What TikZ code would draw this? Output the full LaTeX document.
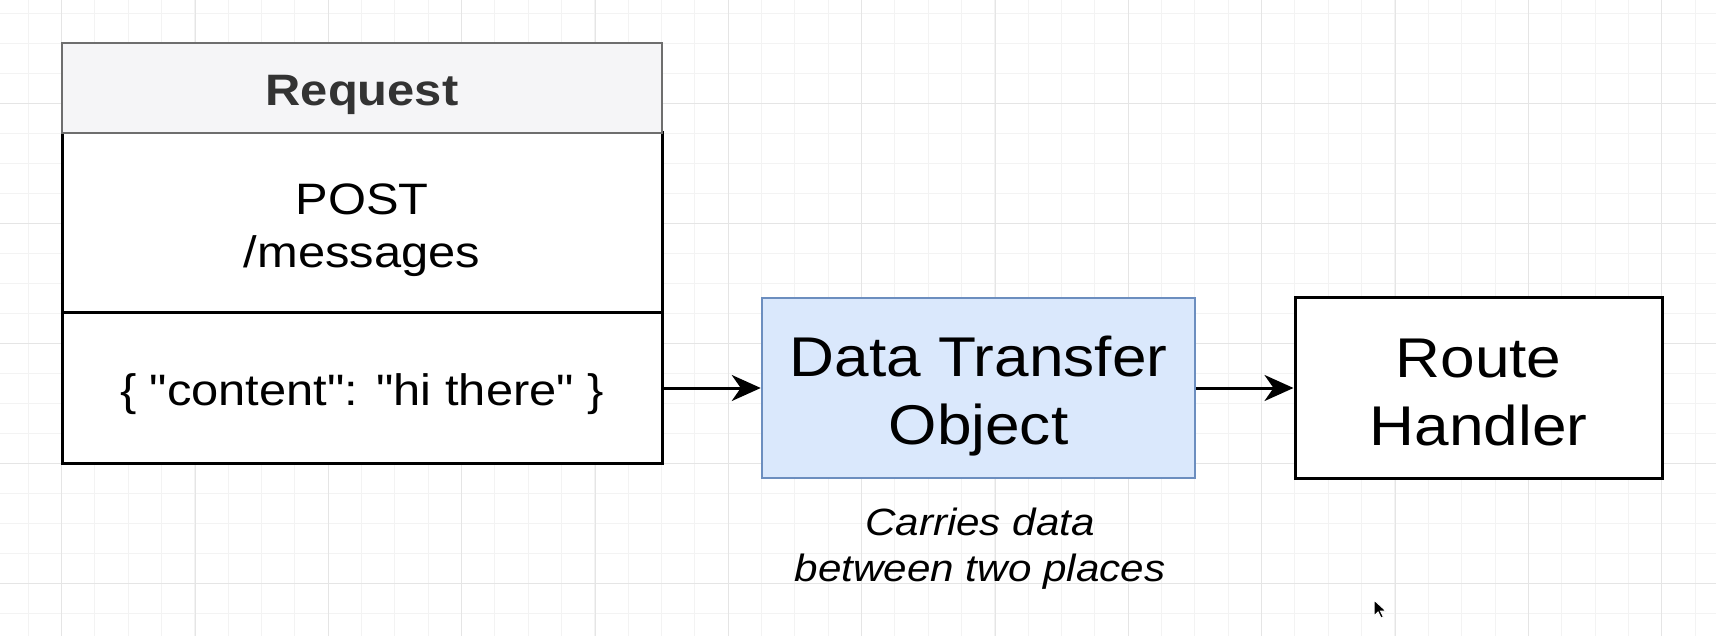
\documentclass[tikz,border=0pt]{standalone}
\usepackage{fontspec}
\setmainfont{Liberation Sans}[FakeStretch=1.11]
\newfontfamily\plainsans{Liberation Sans}[FakeStretch=1.11]
\usetikzlibrary{arrows.meta}
\definecolor{gridminor}{HTML}{F3F3F3}
\definecolor{gridmajor}{HTML}{E5E5E5}
\definecolor{hdrfill}{HTML}{F5F5F7}
\definecolor{hdrdraw}{HTML}{6E6E6E}
\definecolor{hdrtext}{HTML}{333333}
\definecolor{dtofill}{HTML}{DAE8FC}
\definecolor{dtodraw}{HTML}{6C8EBF}
\newcommand\mystrut{\rule[-0.18em]{0pt}{1.2em}}
\begin{document}
\begin{tikzpicture}[x=1pt,y=-1pt,
  box/.style={draw=black,line width=3pt,fill=white,inner sep=0pt,align=center,font=\fontsize{44}{52.8}\selectfont},
  big/.style={font=\fontsize{56}{67}\selectfont},
  hdr/.style={draw=hdrdraw,fill=hdrfill,line width=2.5pt,inner sep=0pt,text=hdrtext,font=\bfseries\fontsize{44}{52.8}\selectfont},
  dtobox/.style={box,big,draw=dtodraw,fill=dtofill,line width=2.5pt},
  conn/.style={line width=3pt,-{Stealth[length=29pt,width=26pt,inset=9pt]}},
  note/.style={align=center,inner sep=0pt,font=\itshape\fontsize{38}{45}\selectfont},
  gmin/.style={draw=gridminor,line width=1pt},
  gmaj/.style={draw=gridmajor,line width=1pt}
]
\useasboundingbox (0,0) rectangle (1716,636);
\fill[white] (0,0) rectangle (1716,636);
% grid
\foreach \k in {0,...,50} {\draw[gmin] ({28.33+33.333*\k},0) -- ({28.33+33.333*\k},636);}
\foreach \k in {0,...,20} {\draw[gmin] (0,{13.33+30*\k}) -- (1716,{13.33+30*\k});}
\foreach \k in {0,...,12} {\draw[gmaj] ({61.67+133.333*\k},0) -- ({61.67+133.333*\k},636);}
\foreach \k in {0,...,4} {\draw[gmaj] (0,{103.33+120*\k}) -- (1716,{103.33+120*\k});}
% request
\node[box,minimum width=600pt,minimum height=180pt] (reqm) at (362,223) {\mystrut POST\\\mystrut /messages};
\node[box,minimum width=600pt,minimum height=150pt] (reqb) at (362,388) {\plainsans\mystrut\{ "content": "hi there" \}};
\node[hdr,minimum width=600pt,minimum height=90pt] (reqh) at (362,88) {\mystrut Request};
% DTO
\node[dtobox,minimum width=433pt,minimum height=180pt] (dto) at (978.5,388) {\mystrut Data Transfer\\\mystrut Object};
% route handler
\node[box,big,minimum width=367pt,minimum height=180pt] (rh) at (1478.5,388) {\mystrut Route\\\mystrut Handler};
% caption
\node[note] (cap) at (980,543) {\mystrut Carries data\\\mystrut between two places};
% connectors
\draw[conn] (reqb.east) -- (dto.west);
\draw[conn] (dto.east) -- (rh.west);
% mouse pointer
\fill[black,draw=white,line width=1pt] (1374,600) -- ++(0,16) -- ++(4,-4) -- ++(3,6) -- ++(2.5,-1) -- ++(-3,-6) -- ++(5.5,0) -- cycle;
\end{tikzpicture}
\end{document}
